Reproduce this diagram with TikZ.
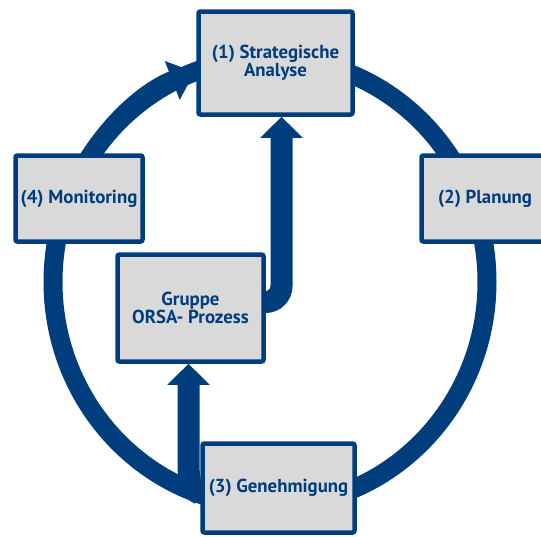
\documentclass[tikz,border=0pt]{standalone}
\usepackage{fontspec}
\setmainfont{PT Sans}
\usetikzlibrary{arrows.meta,calc}
\definecolor{navy}{RGB}{0,61,125}
\definecolor{boxgray}{RGB}{217,217,217}
\pgfdeclarelayer{bg}
\pgfsetlayers{bg,main}
\begin{document}
\begin{tikzpicture}[x=1pt,y=1pt,
  stage/.style={draw=navy, fill=boxgray, line width=4.5pt, rounded corners=2pt,
    inner sep=0pt, text=navy, align=center,
    font=\bfseries\fontsize{18.8}{18.3}\selectfont},
  ring/.style={draw=navy, line width=19pt},
  flow/.style={draw=navy, line width=22pt, -{Triangle[length=21pt,width=41pt]}}]
\useasboundingbox (0,0) rectangle (541,-536);

% process stages
\node[stage, minimum width=154pt, minimum height=103pt] (s1) at (275.5,-63) {(1) Strategische\\Analyse};
\node[stage, minimum width=127pt, minimum height=86pt] (s2) at (485,-198.5) {(2) Planung};
\node[stage, minimum width=152pt, minimum height=89pt] (s3) at (278.5,-488) {(3) Genehmigung};
\node[stage, minimum width=127pt, minimum height=86pt] (s4) at (79,-198.5) {(4) Monitoring};
\node[stage, minimum width=146pt, minimum height=107pt] (g) at (190.5,-308) {Gruppe\\ORSA- Prozess};

\begin{pgfonlayer}{bg}
  \fill[white] (0,0) rectangle (541,-536);
  % the cycle
  \coordinate (c) at (270,-282);
  \draw[ring] (c) ellipse [x radius=217pt, y radius=224pt];
  \draw[ring, -{Triangle[length=24pt,width=40pt]}]
    ($(c)+(155:217pt and 224pt)$) arc[start angle=155, end angle=110.3, x radius=217pt, y radius=224pt];
  % group process feeds the strategic analysis
  \draw[flow, rounded corners=16pt] ([xshift=-12pt,yshift=6pt]g.east) -| ([xshift=6pt]s1.south);
  % approval branches off the cycle and feeds the group process
  \draw[flow] ([yshift=-6pt]s3.west) .. controls (191,-490) and (188.5,-482) .. (188.5,-462) -- ([xshift=-2pt]g.south);
\end{pgfonlayer}
\end{tikzpicture}
\end{document}
